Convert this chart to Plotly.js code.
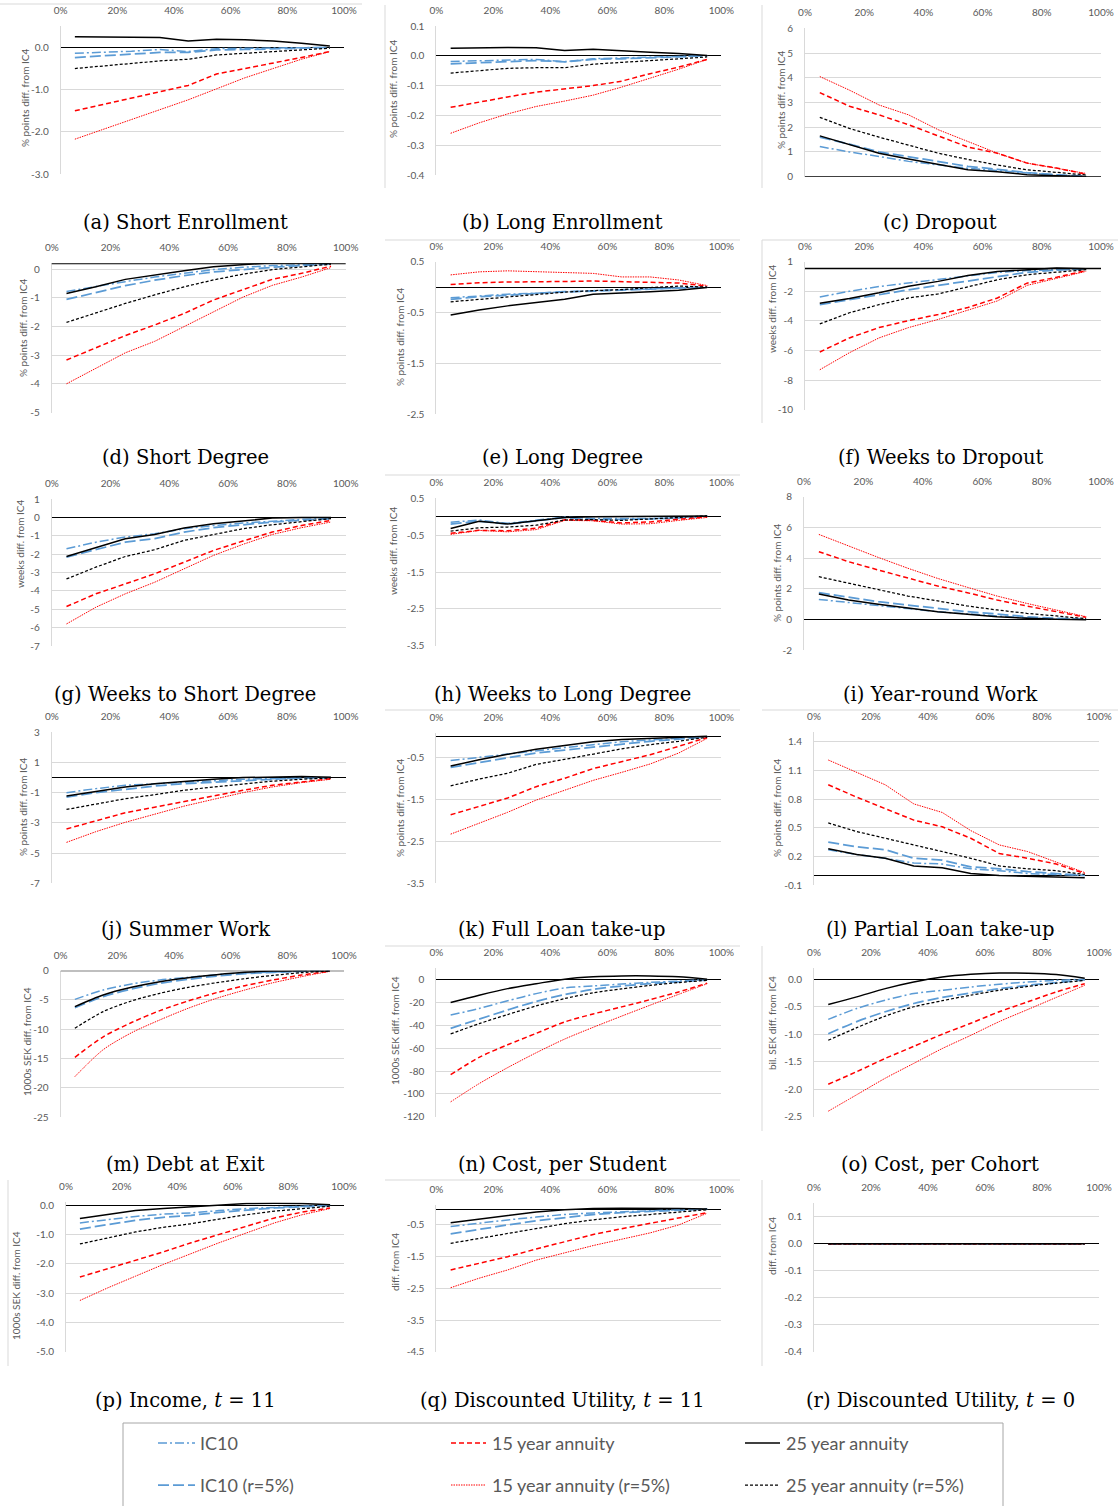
<!DOCTYPE html>
<html>
<head>
<meta charset="utf-8">
<script src="https://cdn.plot.ly/plotly-3.0.1.min.js"></script>
<style>
  html, body { margin: 0; padding: 0; background: #ffffff; }
  #chart { width: 1118px; height: 1506px; }
</style>
</head>
<body>
<div id="chart"></div>
<script>
// ---------------- DATA ----------------
const percentiles = [5, 15, 25, 35, 45, 55, 65, 75, 85, 95];
const xTickVals = [0, 20, 40, 60, 80, 100];
const xTickText = ['0%', '20%', '40%', '60%', '80%', '100%'];
const seriesNames = ['IC10', 'IC10 (r=5%)', '15 year annuity', '15 year annuity (r=5%)', '25 year annuity', '25 year annuity (r=5%)'];

// each panel: rows in the order of seriesNames
const shortEnrollment = [
  [-0.14, -0.12, -0.09, -0.05, -0.1, -0.03, -0.02, -0.01, -0.01, 0],
  [-0.24, -0.2, -0.16, -0.12, -0.12, -0.06, -0.05, -0.04, -0.02, 0],
  [-1.5, -1.35, -1.2, -1.04, -0.9, -0.63, -0.5, -0.38, -0.24, -0.1],
  [-2.17, -1.94, -1.7, -1.47, -1.24, -0.98, -0.72, -0.5, -0.28, -0.1],
  [0.25, 0.25, 0.24, 0.23, 0.15, 0.19, 0.18, 0.15, 0.1, 0.03],
  [-0.5, -0.44, -0.38, -0.32, -0.28, -0.18, -0.14, -0.1, -0.06, -0.02]
];
const longEnrollment = [
  [-0.019, -0.017, -0.014, -0.012, -0.02, -0.01, -0.007, -0.005, -0.003, 0],
  [-0.027, -0.024, -0.02, -0.016, -0.02, -0.012, -0.01, -0.007, -0.004, 0],
  [-0.173, -0.155, -0.138, -0.122, -0.11, -0.1, -0.085, -0.06, -0.038, -0.012],
  [-0.26, -0.225, -0.195, -0.17, -0.152, -0.132, -0.105, -0.075, -0.045, -0.012],
  [0.025, 0.027, 0.028, 0.027, 0.018, 0.022, 0.016, 0.012, 0.008, 0.001],
  [-0.058, -0.05, -0.042, -0.04, -0.04, -0.028, -0.022, -0.016, -0.01, -0.004]
];
const dropout = [
  [1.22, 1.0, 0.82, 0.62, 0.48, 0.34, 0.25, 0.14, 0.06, 0.01],
  [1.6, 1.32, 1.0, 0.8, 0.62, 0.42, 0.3, 0.17, 0.08, 0.02],
  [3.4, 2.85, 2.5, 2.1, 1.65, 1.2, 0.95, 0.55, 0.35, 0.1],
  [4.05, 3.5, 2.9, 2.5, 1.9, 1.42, 0.95, 0.55, 0.35, 0.13],
  [1.65, 1.3, 0.95, 0.72, 0.5, 0.28, 0.2, 0.08, 0.04, 0.01],
  [2.4, 1.95, 1.6, 1.28, 0.95, 0.7, 0.47, 0.28, 0.16, 0.07]
];
const shortDegree = [
  [-0.78, -0.6, -0.44, -0.28, -0.14, -0.02, 0.06, 0.12, 0.15, 0.19],
  [-1.06, -0.82, -0.58, -0.39, -0.23, -0.1, -0.01, 0.06, 0.12, 0.18],
  [-3.17, -2.75, -2.32, -1.95, -1.55, -1.08, -0.73, -0.36, -0.15, 0.1],
  [-4.0, -3.45, -2.92, -2.52, -2.0, -1.5, -0.98, -0.57, -0.28, 0.05],
  [-0.85, -0.62, -0.36, -0.2, -0.06, 0.08, 0.15, 0.22, 0.21, 0.2],
  [-1.86, -1.53, -1.2, -0.9, -0.62, -0.38, -0.18, -0.02, 0.08, 0.17]
];
const longDegree = [
  [-0.21, -0.17, -0.14, -0.12, -0.09, -0.07, -0.05, -0.03, -0.02, 0],
  [-0.24, -0.19, -0.16, -0.125, -0.09, -0.08, -0.06, -0.04, -0.02, 0],
  [0.05, 0.085, 0.1, 0.1, 0.11, 0.12, 0.11, 0.1, 0.08, 0.02],
  [0.24, 0.3, 0.32, 0.3, 0.29, 0.27, 0.2, 0.2, 0.14, 0.03],
  [-0.55, -0.45, -0.37, -0.31, -0.24, -0.14, -0.12, -0.09, -0.06, -0.01],
  [-0.29, -0.24, -0.2, -0.15, -0.1, -0.07, -0.05, -0.01, 0.02, 0]
];
const weeksToDropout = [
  [-2.38, -2.0, -1.68, -1.45, -1.22, -1.0, -0.72, -0.6, -0.52, -0.47],
  [-2.9, -2.56, -2.22, -1.9, -1.6, -1.32, -1.0, -0.72, -0.57, -0.49],
  [-6.1, -5.15, -4.45, -3.98, -3.57, -3.1, -2.45, -1.45, -1.05, -0.6],
  [-7.3, -6.15, -5.15, -4.45, -3.9, -3.25, -2.65, -1.6, -1.1, -0.65],
  [-2.8, -2.48, -2.1, -1.66, -1.33, -0.93, -0.66, -0.52, -0.43, -0.47],
  [-4.2, -3.45, -2.9, -2.45, -2.18, -1.72, -1.22, -0.88, -0.7, -0.54]
];
const weeksToShortDegree = [
  [-1.71, -1.35, -1.07, -0.89, -0.62, -0.44, -0.31, -0.2, -0.11, -0.04],
  [-2.16, -1.76, -1.35, -1.16, -0.8, -0.56, -0.4, -0.25, -0.16, -0.07],
  [-4.85, -4.16, -3.62, -3.07, -2.44, -1.8, -1.29, -0.8, -0.44, -0.16],
  [-5.8, -4.89, -4.16, -3.53, -2.8, -2.07, -1.47, -0.93, -0.56, -0.25],
  [-2.13, -1.65, -1.16, -0.93, -0.58, -0.35, -0.2, -0.04, 0, 0],
  [-3.35, -2.71, -2.13, -1.76, -1.25, -0.93, -0.62, -0.4, -0.22, -0.07]
];
const weeksToLongDegree = [
  [-0.15, -0.09, -0.18, -0.09, -0.01, -0.05, -0.06, -0.05, -0.03, 0.02],
  [-0.2, -0.12, -0.2, -0.12, -0.02, -0.08, -0.08, -0.06, -0.03, 0.02],
  [-0.45, -0.37, -0.38, -0.31, -0.08, -0.1, -0.17, -0.14, -0.07, 0],
  [-0.48, -0.37, -0.41, -0.35, -0.1, -0.11, -0.2, -0.19, -0.1, -0.02],
  [-0.32, -0.12, -0.2, -0.12, -0.02, 0, 0, 0.01, 0.01, 0.02],
  [-0.39, -0.3, -0.28, -0.23, -0.09, -0.08, -0.1, -0.05, -0.02, 0.02]
];
const yearRoundWork = [
  [1.3, 1.09, 0.87, 0.7, 0.5, 0.35, 0.22, 0.11, 0.02, 0],
  [1.74, 1.43, 1.15, 0.93, 0.72, 0.5, 0.35, 0.17, 0.07, 0.01],
  [4.41, 3.76, 3.22, 2.67, 2.17, 1.74, 1.26, 0.87, 0.5, 0.13],
  [5.54, 4.78, 4.04, 3.33, 2.67, 2.09, 1.52, 1.04, 0.61, 0.17],
  [1.65, 1.26, 0.98, 0.72, 0.5, 0.33, 0.17, 0.07, 0, -0.02],
  [2.78, 2.35, 1.91, 1.52, 1.2, 0.87, 0.61, 0.39, 0.22, 0.04]
];
const summerWork = [
  [-1.0, -0.73, -0.51, -0.4, -0.29, -0.18, -0.11, -0.07, -0.02, 0],
  [-1.29, -1.0, -0.78, -0.56, -0.4, -0.29, -0.18, -0.11, -0.04, -0.01],
  [-3.4, -2.84, -2.33, -1.96, -1.58, -1.18, -0.84, -0.51, -0.29, -0.07],
  [-4.29, -3.58, -2.96, -2.4, -1.89, -1.44, -1.0, -0.62, -0.33, -0.11],
  [-1.22, -0.91, -0.62, -0.4, -0.24, -0.11, 0, 0.04, 0.07, 0.02],
  [-2.11, -1.73, -1.4, -1.13, -0.84, -0.62, -0.42, -0.24, -0.11, -0.02]
];
const fullLoan = [
  [-0.58, -0.5, -0.43, -0.35, -0.27, -0.2, -0.13, -0.09, -0.05, -0.01],
  [-0.74, -0.63, -0.52, -0.4, -0.33, -0.26, -0.18, -0.12, -0.07, -0.02],
  [-1.87, -1.67, -1.47, -1.2, -1.0, -0.77, -0.6, -0.44, -0.24, -0.03],
  [-2.33, -2.07, -1.81, -1.52, -1.28, -1.05, -0.86, -0.66, -0.4, -0.05],
  [-0.71, -0.56, -0.43, -0.31, -0.22, -0.13, -0.08, -0.05, -0.02, 0],
  [-1.18, -1.02, -0.88, -0.67, -0.55, -0.42, -0.3, -0.2, -0.12, -0.02]
];
const partialLoan = [
  [0.27, 0.22, 0.18, 0.13, 0.12, 0.07, 0.05, 0.02, 0.01, 0],
  [0.35, 0.3, 0.27, 0.18, 0.16, 0.09, 0.07, 0.04, 0.02, 0],
  [0.95, 0.82, 0.7, 0.58, 0.51, 0.39, 0.23, 0.18, 0.12, 0.02],
  [1.21, 1.08, 0.95, 0.75, 0.66, 0.47, 0.32, 0.25, 0.14, 0.03],
  [0.28, 0.22, 0.18, 0.1, 0.08, 0.02, 0, -0.01, -0.02, -0.025],
  [0.55, 0.46, 0.39, 0.32, 0.25, 0.18, 0.1, 0.07, 0.05, 0.01]
];
const debtAtExit = [
  [-4.9, -3.3, -2.27, -1.59, -1.14, -0.68, -0.4, -0.23, -0.11, -0.02],
  [-6.3, -4.43, -3.13, -2.16, -1.48, -0.91, -0.51, -0.28, -0.11, -0.02],
  [-14.8, -11.3, -8.86, -6.82, -5.17, -3.75, -2.56, -1.59, -0.74, -0.11],
  [-18.1, -13.5, -10.6, -8.41, -6.42, -4.72, -3.3, -2.05, -1.02, -0.11],
  [-6.14, -4.15, -2.84, -1.88, -1.19, -0.68, -0.28, -0.06, 0, 0],
  [-9.83, -6.99, -5.17, -3.86, -2.84, -2.05, -1.36, -0.8, -0.34, -0.06]
];
const costPerStudent = [
  [-31, -25.2, -18.5, -12.2, -7.2, -5.5, -3.8, -2.3, -1.2, 0],
  [-42.6, -34.5, -26.5, -19, -13, -8.5, -5.5, -3.5, -1.8, -0.3],
  [-83.2, -68, -57, -47, -37, -30, -23.8, -17.4, -10.7, -3],
  [-107, -91, -77, -64, -52, -41.7, -31.9, -22.3, -12.8, -3.5],
  [-20, -13.6, -7.8, -3.5, 0.5, 2.5, 3.3, 3.3, 2.5, 0.5],
  [-47.5, -38.5, -30.5, -23, -16.5, -11.5, -8, -5, -2.5, -0.5]
];
const costPerCohort = [
  [-0.73, -0.53, -0.38, -0.26, -0.2, -0.14, -0.09, -0.05, -0.02, 0],
  [-0.99, -0.77, -0.59, -0.44, -0.33, -0.25, -0.17, -0.11, -0.06, -0.01],
  [-1.91, -1.68, -1.44, -1.22, -1.0, -0.8, -0.59, -0.41, -0.23, -0.08],
  [-2.4, -2.1, -1.8, -1.53, -1.26, -1.02, -0.77, -0.55, -0.33, -0.11],
  [-0.46, -0.32, -0.17, -0.05, 0.04, 0.09, 0.115, 0.11, 0.085, 0.02],
  [-1.11, -0.88, -0.67, -0.5, -0.39, -0.29, -0.2, -0.13, -0.07, -0.02]
];
const incomeT11 = [
  [-0.6, -0.49, -0.38, -0.3, -0.26, -0.18, -0.11, -0.07, -0.03, 0],
  [-0.81, -0.66, -0.51, -0.41, -0.34, -0.24, -0.16, -0.09, -0.05, -0.01],
  [-2.45, -2.16, -1.89, -1.59, -1.28, -1.0, -0.72, -0.43, -0.23, -0.09],
  [-3.25, -2.82, -2.42, -2.02, -1.65, -1.28, -0.94, -0.6, -0.32, -0.11],
  [-0.45, -0.32, -0.18, -0.11, -0.05, 0.02, 0.06, 0.07, 0.06, 0.02],
  [-1.32, -1.11, -0.91, -0.75, -0.63, -0.47, -0.32, -0.2, -0.11, -0.03]
];
const utilityT11 = [
  [-0.55, -0.44, -0.34, -0.25, -0.17, -0.12, -0.08, -0.05, -0.02, 0],
  [-0.78, -0.63, -0.5, -0.37, -0.26, -0.17, -0.11, -0.07, -0.04, 0],
  [-1.92, -1.71, -1.5, -1.26, -1.04, -0.8, -0.62, -0.45, -0.3, -0.11],
  [-2.48, -2.18, -1.92, -1.61, -1.38, -1.15, -0.95, -0.75, -0.5, -0.13],
  [-0.43, -0.31, -0.19, -0.09, -0.02, 0.02, 0.03, 0.03, 0.02, 0],
  [-1.08, -0.92, -0.76, -0.61, -0.46, -0.34, -0.24, -0.17, -0.09, -0.02]
];
const utilityT0 = [
  [0, 0, 0, 0, 0, 0, 0, 0, 0, 0],
  [0, 0, 0, 0, 0, 0, 0, 0, 0, 0],
  [0, 0, 0, 0, 0, 0, 0, 0, 0, 0],
  [0, 0, 0, 0, 0, 0, 0, 0, 0, 0],
  [0, 0, 0, 0, 0, 0, 0, 0, 0, 0],
  [0, 0, 0, 0, 0, 0, 0, 0, 0, 0]
];

const panelData = [shortEnrollment, longEnrollment, dropout, shortDegree, longDegree, weeksToDropout,
  weeksToShortDegree, weeksToLongDegree, yearRoundWork, summerWork, fullLoan, partialLoan,
  debtAtExit, costPerStudent, costPerCohort, incomeT11, utilityT11, utilityT0];

const captions = ['(a) Short Enrollment', '(b) Long Enrollment', '(c) Dropout',
  '(d) Short Degree', '(e) Long Degree', '(f) Weeks to Dropout',
  '(g) Weeks to Short Degree', '(h) Weeks to Long Degree', '(i) Year-round Work',
  '(j) Summer Work', '(k) Full Loan take-up', '(l) Partial Loan take-up',
  '(m) Debt at Exit', '(n) Cost, per Student', '(o) Cost, per Cohort',
  '(p) Income, <i>t</i> = 11', '(q) Discounted Utility, <i>t</i> = 11', '(r) Discounted Utility, <i>t</i> = 0'];

const yTitles = ['% points diff. from IC4', '% points diff. from IC4', '% points diff. from IC4',
  '% points diff. from IC4', '% points diff. from IC4', 'weeks diff. from IC4',
  'weeks diff. from IC4', 'weeks diff. from IC4', '% points diff. from IC4',
  '% points diff. from IC4', '% points diff. from IC4', '% points diff. from IC4',
  '1000s SEK diff. from IC4', '1000s SEK diff. from IC4', 'bil. SEK diff. from IC4',
  '1000s SEK diff. from IC4', 'diff. from IC4', 'diff. from IC4'];

const yTickVals = [
  [0, -1, -2, -3], [0.1, 0, -0.1, -0.2, -0.3, -0.4], [0, 1, 2, 3, 4, 5, 6],
  [0, -1, -2, -3, -4, -5], [0.5, -0.5, -1.5, -2.5], [0, -2, -4, -6, -8, -10],
  [1, 0, -1, -2, -3, -4, -5, -6, -7], [0.5, -0.5, -1.5, -2.5, -3.5], [8, 6, 4, 2, 0, -2],
  [3, 1, -1, -3, -5, -7], [-0.5, -1.5, -2.5, -3.5], [1.4, 1.1, 0.8, 0.5, 0.2, -0.1],
  [0, -5, -10, -15, -20, -25], [0, -20, -40, -60, -80, -100, -120], [0, -0.5, -1, -1.5, -2, -2.5],
  [0, -1, -2, -3, -4, -5], [-0.5, -1.5, -2.5, -3.5, -4.5], [0.1, 0, -0.1, -0.2, -0.3, -0.4]
];
const yTickText = [
  ['0.0', '-1.0', '-2.0', '-3.0'], ['0.1', '0.0', '-0.1', '-0.2', '-0.3', '-0.4'], ['0', '1', '2', '3', '4', '5', '6'],
  ['0', '-1', '-2', '-3', '-4', '-5'], ['0.5', '-0.5', '-1.5', '-2.5'], ['1', '-2', '-4', '-6', '-8', '-10'],
  ['1', '0', '-1', '-2', '-3', '-4', '-5', '-6', '-7'], ['0.5', '-0.5', '-1.5', '-2.5', '-3.5'], ['8', '6', '4', '2', '0', '-2'],
  ['3', '1', '-1', '-3', '-5', '-7'], ['-0.5', '-1.5', '-2.5', '-3.5'], ['1.4', '1.1', '0.8', '0.5', '0.2', '-0.1'],
  ['0', '-5', '-10', '-15', '-20', '-25'], ['0', '-20', '-40', '-60', '-80', '-100', '-120'], ['0.0', '-0.5', '-1.0', '-1.5', '-2.0', '-2.5'],
  ['0.0', '-1.0', '-2.0', '-3.0', '-4.0', '-5.0'], ['-0.5', '-1.5', '-2.5', '-3.5', '-4.5'], ['0.1', '0.0', '-0.1', '-0.2', '-0.3', '-0.4']
];
const yRanges = [
  [-3, 0.5], [-0.4, 0.1], [0, 6], [-5, 0.2], [-2.5, 0.5], [-10, 0],
  [-7, 1], [-3.5, 0.5], [-2, 8], [-7, 3], [-3.5, 0.07], [-0.1, 1.5],
  [-25, 0], [-120, 10], [-2.5, 0.2], [-5, 0.1], [-4.5, 0.13], [-0.4, 0.15]
];
// level at which each chart's horizontal axis line is drawn
const axisLevels = [0, 0, 0, 0.19, 0, -0.46, 0, 0, 0, 0, 0, 0, 0, 0, 0, 0, 0, 0];
const smoothPanels = [12, 13, 14];

// ---------------- GEOMETRY (pixels) ----------------
const W = 1118, H = 1506;
const px = v => v / W;
const py = v => 1 - v / H;
// [left, right, top, bottom] of each plot area
const boxes = [
  [60.7, 344, 26.2, 174.3], [436.4, 721.4, 26, 175], [805, 1101, 28.3, 176.7],
  [51.8, 345.7, 263.3, 412.5], [436.4, 721.4, 261.7, 414], [805, 1101, 261.7, 409.7],
  [51.8, 345.7, 499, 646], [436.4, 721.4, 498.3, 645.7], [804, 1101, 496.7, 650],
  [51.8, 345.7, 732.3, 883.3], [436.4, 721.4, 733.3, 883.3], [814, 1099, 732.3, 885],
  [60.7, 344, 970.7, 1117], [436.4, 721.4, 968.3, 1116.7], [814, 1099, 968.3, 1116.7],
  [66, 344, 1202.4, 1351.7], [436.4, 721.4, 1205, 1351.7], [814, 1099, 1203.3, 1351.7]
];
const captionX = [185, 562, 940];
const captionY = [223, 458, 694, 929, 1164, 1400];
const yTitlePos = [
  [25, 98], [393, 89], [781, 100], [23, 328], [400, 337], [772, 309],
  [20, 544], [393, 551], [777, 573], [23, 807], [400, 808], [777, 808],
  [27, 1042], [395, 1031], [772, 1023], [16, 1286], [395, 1262], [772, 1246]
];

const styles = [
  { color: '#5B9BD5', width: 1.5, dash: '9px,3px,2px,3px' },
  { color: '#5B9BD5', width: 1.75, dash: '11px,4px' },
  { color: '#FF0000', width: 1.5, dash: '5px,3px' },
  { color: '#FF0000', width: 1, dash: '1.5px,1px' },
  { color: '#000000', width: 1.5, dash: 'solid' },
  { color: '#000000', width: 1.25, dash: '3px,2px' }
];

const tickFont = { family: 'Lato, Liberation Sans, sans-serif', size: 10, color: '#595959' };
const gridCol = '#d9d9d9';

const traces = [];
const layout = {
  width: W, height: H,
  margin: { l: 0, r: 0, t: 0, b: 0 },
  paper_bgcolor: '#ffffff', plot_bgcolor: 'rgba(0,0,0,0)',
  showlegend: false,
  shapes: [], annotations: []
};

panelData.forEach((rows, i) => {
  const n = i === 0 ? '' : String(i + 1);
  const [l, r, t, b] = boxes[i];
  rows.forEach((vals, s) => {
    traces.push({
      type: 'scatter', mode: 'lines',
      x: percentiles, y: vals,
      xaxis: 'x' + n, yaxis: 'y' + n,
      name: seriesNames[s],
      line: Object.assign({}, styles[s], smoothPanels.includes(i) ? { shape: 'spline', smoothing: 0.8 } : {}),
      hoverinfo: 'skip', showlegend: false
    });
  });
  const lvl = axisLevels[i];
  const rng = yRanges[i];
  const useZeroLine = lvl === 0 && rng[0] < 0 && rng[1] > 0;
  layout['xaxis' + n] = {
    domain: [px(l), px(r)], range: [0, 100], side: 'top', anchor: 'y' + n,
    tickvals: xTickVals, ticktext: xTickText,
    showgrid: false, zeroline: false, showline: false,
    ticks: 'outside', ticklen: 7, tickcolor: 'rgba(0,0,0,0)',
    tickfont: tickFont, fixedrange: true
  };
  layout['yaxis' + n] = {
    domain: [py(b), py(t)], range: rng, anchor: 'x' + n,
    tickvals: yTickVals[i], ticktext: yTickText[i],
    showgrid: true, gridcolor: gridCol, gridwidth: 1,
    zeroline: useZeroLine, zerolinecolor: '#000000', zerolinewidth: 1.3,
    showline: true, linecolor: gridCol, linewidth: 1,
    ticks: 'outside', ticklen: 9, tickcolor: 'rgba(0,0,0,0)',
    tickfont: tickFont, fixedrange: true
  };
  if (!useZeroLine) {
    layout.shapes.push({
      type: 'line', xref: 'x' + n + ' domain', yref: 'y' + n,
      x0: 0, x1: 1, y0: lvl, y1: lvl,
      line: { color: '#000000', width: 1.3 }
    });
  }
  layout.annotations.push({
    text: captions[i], xref: 'paper', yref: 'paper',
    x: px(captionX[i % 3]), y: py(captionY[Math.floor(i / 3)]),
    xanchor: 'center', yanchor: 'middle', showarrow: false,
    font: { family: 'DejaVu Serif, Liberation Serif, serif', size: 19.5, color: '#000000' }
  });
  layout.annotations.push({
    text: yTitles[i], xref: 'paper', yref: 'paper',
    x: px(yTitlePos[i][0]), y: py(yTitlePos[i][1]),
    xanchor: 'center', yanchor: 'middle', textangle: -90, showarrow: false,
    font: { family: 'Lato, Liberation Sans, sans-serif', size: 10, color: '#595959' }
  });
});

// light chart-area borders visible in the reference
const borders = [
  [0, 4, 362, 4], [385, 5, 385, 188], [762, 5, 762, 188],
  [385, 240, 740, 240], [762, 240, 762, 423], [762, 240, 1118, 240],
  [385, 475, 740, 475],
  [385, 710, 740, 710], [762, 710, 1118, 710],
  [385, 946, 740, 946], [762, 946, 762, 1131],
  [8, 1180, 8, 1366], [385, 1180, 740, 1180], [762, 1180, 762, 1366]
];
borders.forEach(([x0, y0, x1, y1]) => {
  layout.shapes.push({
    type: 'line', xref: 'paper', yref: 'paper',
    x0: px(x0), y0: py(y0), x1: px(x1), y1: py(y1),
    line: { color: gridCol, width: 1 }
  });
});

// legend box
layout.shapes.push({
  type: 'rect', xref: 'paper', yref: 'paper',
  x0: px(123), x1: px(1003), y0: py(1423), y1: py(1520),
  line: { color: '#a6a6a6', width: 1 }, fillcolor: 'rgba(0,0,0,0)'
});
const legendCols = [[158, 195, 198], [451, 486, 490], [745, 780, 784]];
const legendRows = [1443, 1485];
const legendOrder = [[0, 2, 4], [1, 3, 5]];
legendOrder.forEach((row, ri) => {
  row.forEach((s, ci) => {
    const [lx0, lx1, tx] = legendCols[ci];
    const yy = py(legendRows[ri]);
    layout.shapes.push({
      type: 'line', xref: 'paper', yref: 'paper',
      x0: px(lx0), x1: px(lx1), y0: yy, y1: yy,
      line: { color: styles[s].color, width: styles[s].width, dash: styles[s].dash }
    });
    layout.annotations.push({
      text: seriesNames[s], xref: 'paper', yref: 'paper',
      x: px(tx), y: yy, xanchor: 'left', yanchor: 'middle', showarrow: false,
      font: { family: 'Lato, Liberation Sans, sans-serif', size: 18, color: '#595959' }
    });
  });
});

Plotly.newPlot('chart', traces, layout, { displayModeBar: false });
</script>
</body>
</html>
